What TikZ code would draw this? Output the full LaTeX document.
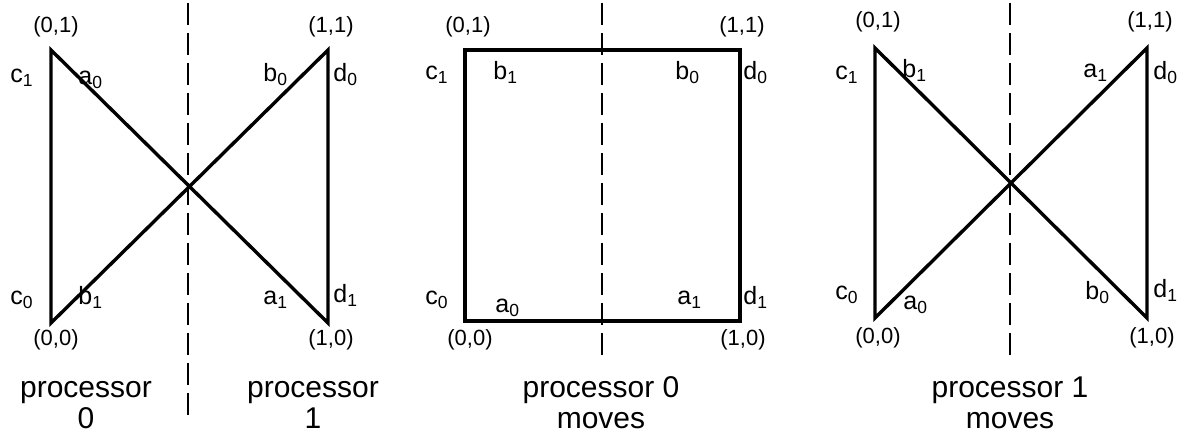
\documentclass[tikz,border=0pt]{standalone}
\usepackage{fontspec}
\setmainfont{Liberation Sans}
\usetikzlibrary{positioning}

\begin{document}
\begin{tikzpicture}[
    x=0.5pt, y=-0.5pt,
    edge/.style={line width=1.7pt, line join=miter},
    split/.style={line width=1.4pt, dash pattern=on 11pt off 4pt},
    corner/.style={font=\fontsize{11}{11}\selectfont, inner sep=0pt},
    vlab/.style={font=\fontsize{12.5}{13}\selectfont, inner sep=0pt,
                 anchor=base west},
    ptitle/.style={font=\fontsize{15}{15.5}\selectfont, align=center,
                inner sep=0pt, anchor=north}
  ]
  \useasboundingbox (0,0) rectangle (1183,437);

  % Panel 1: start
  \coordinate (p1tl) at (51,50);
  \coordinate (p1bl) at (51,323);
  \coordinate (p1tr) at (328,50);
  \coordinate (p1br) at (328,323);
  \coordinate (p1top) at (188,3);
  \coordinate (p1bot) at (188,415);
  \draw[edge] (p1tl) -- (p1br) -- (p1tr) -- (p1bl) -- cycle;
  \draw[split] (p1top) -- (p1bot);

  \node[corner] (p1c01) at (56,27) {(0,1)};
  \node[corner] (p1c11) at (331,27) {(1,1)};
  \node[corner] (p1c00) at (56,340) {(0,0)};
  \node[corner] (p1c10) at (331,340) {(1,0)};

  \node[vlab] (p1c1) at (10,83) {c\textsubscript{1}};
  \node[vlab] (p1a0) at (78,85) {a\textsubscript{0}};
  \node[vlab] (p1b0) at (263,82) {b\textsubscript{0}};
  \node[vlab] (p1d0) at (333,82) {d\textsubscript{0}};
  \node[vlab] (p1c0) at (10,305) {c\textsubscript{0}};
  \node[vlab] (p1b1) at (78,305) {b\textsubscript{1}};
  \node[vlab] (p1a1) at (263,305) {a\textsubscript{1}};
  \node[vlab] (p1d1) at (333,303) {d\textsubscript{1}};

  \node[ptitle] (p1cap0) at (86,381) {processor\\0};
  \node[ptitle] (p1cap1) at (313,381) {processor\\1};

  % Panel 2: processor 0 moves
  \coordinate (p2tl) at (465,50);
  \coordinate (p2bl) at (465,321);
  \coordinate (p2tr) at (740,50);
  \coordinate (p2br) at (740,321);
  \coordinate (p2top) at (602,3);
  \coordinate (p2bot) at (602,358);
  \draw[edge] (p2tl) -- (p2tr) -- (p2br) -- (p2bl) -- cycle;
  \draw[split] (p2top) -- (p2bot);

  \node[corner] (p2c01) at (468,27) {(0,1)};
  \node[corner] (p2c11) at (742,27) {(1,1)};
  \node[corner] (p2c00) at (470,340) {(0,0)};
  \node[corner] (p2c10) at (743,340) {(1,0)};

  \node[vlab] (p2c1) at (425,80) {c\textsubscript{1}};
  \node[vlab] (p2b1) at (493,80) {b\textsubscript{1}};
  \node[vlab] (p2b0) at (675,80) {b\textsubscript{0}};
  \node[vlab] (p2d0) at (743,80) {d\textsubscript{0}};
  \node[vlab] (p2c0) at (425,305) {c\textsubscript{0}};
  \node[vlab] (p2a0) at (495,313) {a\textsubscript{0}};
  \node[vlab] (p2a1) at (677,305) {a\textsubscript{1}};
  \node[vlab] (p2d1) at (743,305) {d\textsubscript{1}};

  \node[ptitle] (p2cap) at (601,376) {processor 0\\moves};

  % Panel 3: processor 1 moves
  \coordinate (p3tl) at (875,48);
  \coordinate (p3bl) at (875,318);
  \coordinate (p3tr) at (1147,48);
  \coordinate (p3br) at (1147,318);
  \coordinate (p3top) at (1010,3);
  \coordinate (p3bot) at (1010,357);
  \draw[edge] (p3tl) -- (p3br) -- (p3tr) -- (p3bl) -- cycle;
  \draw[split] (p3top) -- (p3bot);

  \node[corner] (p3c01) at (878,22) {(0,1)};
  \node[corner] (p3c11) at (1150,22) {(1,1)};
  \node[corner] (p3c00) at (878,338) {(0,0)};
  \node[corner] (p3c10) at (1152,338) {(1,0)};

  \node[vlab] (p3c1) at (835,80) {c\textsubscript{1}};
  \node[vlab] (p3b1) at (902,78) {b\textsubscript{1}};
  \node[vlab] (p3a1) at (1083,78) {a\textsubscript{1}};
  \node[vlab] (p3d0) at (1153,80) {d\textsubscript{0}};
  \node[vlab] (p3c0) at (835,300) {c\textsubscript{0}};
  \node[vlab] (p3a0) at (903,310) {a\textsubscript{0}};
  \node[vlab] (p3b0) at (1085,300) {b\textsubscript{0}};
  \node[vlab] (p3d1) at (1153,298) {d\textsubscript{1}};

  \node[ptitle] (p3cap) at (1010,376) {processor 1\\moves};
\end{tikzpicture}
\end{document}
